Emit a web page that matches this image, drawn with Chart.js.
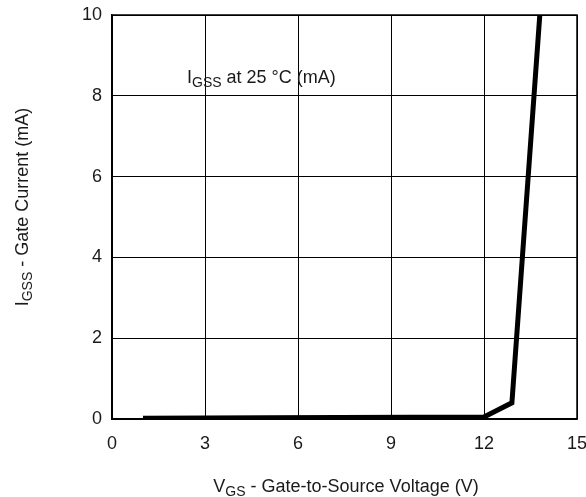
<!DOCTYPE html>
<html>
<head>
<meta charset="utf-8">
<script src="https://cdn.jsdelivr.net/npm/chart.js@4/dist/chart.umd.min.js"></script>
<style>
  body { margin: 0; background: #fff; }
  #wrap { width: 586px; height: 497px; position: relative; }
</style>
</head>
<body>
<div id="wrap"><canvas id="igssChart"></canvas></div>
<script>
// Gate current vs gate-to-source voltage
const vgsValues = [1, 5, 12, 12.9, 13.8];
const igssValues = [0.02, 0.03, 0.05, 0.4, 10];
const xTicks = [0, 3, 6, 9, 12, 15];
const yTicks = [0, 2, 4, 6, 8, 10];

const FONT = '"Liberation Sans", Arial, Helvetica, sans-serif';

// draws "main" + subscript + rest, anchored by its center or left
function drawSubText(ctx, parts, x, y, align) {
    const big = '18px ' + FONT;
    const small = '14px ' + FONT;
    ctx.font = big;
    const w0 = ctx.measureText(parts[0]).width;
    ctx.font = small;
    const w1 = ctx.measureText(parts[1]).width;
    ctx.font = big;
    const w2 = ctx.measureText(parts[2]).width;
    let sx = align === 'center' ? x - (w0 + w1 + w2) / 2 : x;
    ctx.textAlign = 'left';
    ctx.textBaseline = 'alphabetic';
    ctx.fillStyle = '#1a1a1a';
    ctx.font = big;
    ctx.fillText(parts[0], sx, y);
    ctx.font = small;
    ctx.fillText(parts[1], sx + w0, y + 4);
    ctx.font = big;
    ctx.fillText(parts[2], sx + w0 + w1, y);
}

const labelsPlugin = {
    id: 'labels',
    afterDraw(chart) {
        const ctx = chart.ctx;
        ctx.save();
        drawSubText(ctx, ['V', 'GS', ' - Gate-to-Source Voltage (V)'], 346, 492, 'center');
        drawSubText(ctx, ['I', 'GSS', ' at 25 \u00B0C (mA)'], 187, 83, 'left');
        ctx.translate(28, 207);
        ctx.rotate(-Math.PI / 2);
        drawSubText(ctx, ['I', 'GSS', ' - Gate Current (mA)'], 0, 0, 'center');
        ctx.restore();
    }
};

new Chart(document.getElementById('igssChart'), {
    type: 'scatter',
    data: {
        datasets: [{
            data: vgsValues.map((v, i) => ({ x: v, y: igssValues[i] })),
            showLine: true,
            borderColor: '#000',
            borderWidth: 5,
            pointRadius: 0,
            tension: 0,
            borderJoinStyle: 'miter'
        }]
    },
    options: {
        responsive: true,
        maintainAspectRatio: false,
        animation: false,
        layout: { padding: { left: 0, top: 15, right: 9, bottom: 0 } },
        plugins: { legend: { display: false }, tooltip: { enabled: false } },
        scales: {
            x: {
                type: 'linear',
                min: 0,
                max: 15,
                afterBuildTicks(scale) { scale.ticks = xTicks.map(v => ({ value: v })); },
                afterFit(scale) {
                    scale.height = 78;
                    scale.paddingLeft = 0;
                    scale.paddingRight = 0;
                },
                grid: { color: '#000', lineWidth: 1, drawTicks: false },
                border: { color: '#000', width: 1.5 },
                ticks: { padding: 14, color: '#1a1a1a', font: { family: FONT, size: 18 } }
            },
            y: {
                type: 'linear',
                min: 0,
                max: 10,
                afterBuildTicks(scale) { scale.ticks = yTicks.map(v => ({ value: v })); },
                afterFit(scale) {
                    scale.width = 112;
                    scale.paddingTop = 0;
                    scale.paddingBottom = 0;
                },
                grid: { color: '#000', lineWidth: 1, drawTicks: false },
                border: { color: '#000', width: 1.5 },
                ticks: { padding: 10, color: '#1a1a1a', font: { family: FONT, size: 18 } }
            }
        }
    },
    plugins: [labelsPlugin, {
        id: 'frame',
        afterDatasetsDraw(chart) {
            const a = chart.chartArea, ctx = chart.ctx;
            ctx.save();
            ctx.strokeStyle = '#000';
            ctx.lineWidth = 1.5;
            ctx.strokeRect(a.left, a.top, a.right - a.left, a.bottom - a.top);
            ctx.restore();
        }
    }]
});
</script>
</body>
</html>
